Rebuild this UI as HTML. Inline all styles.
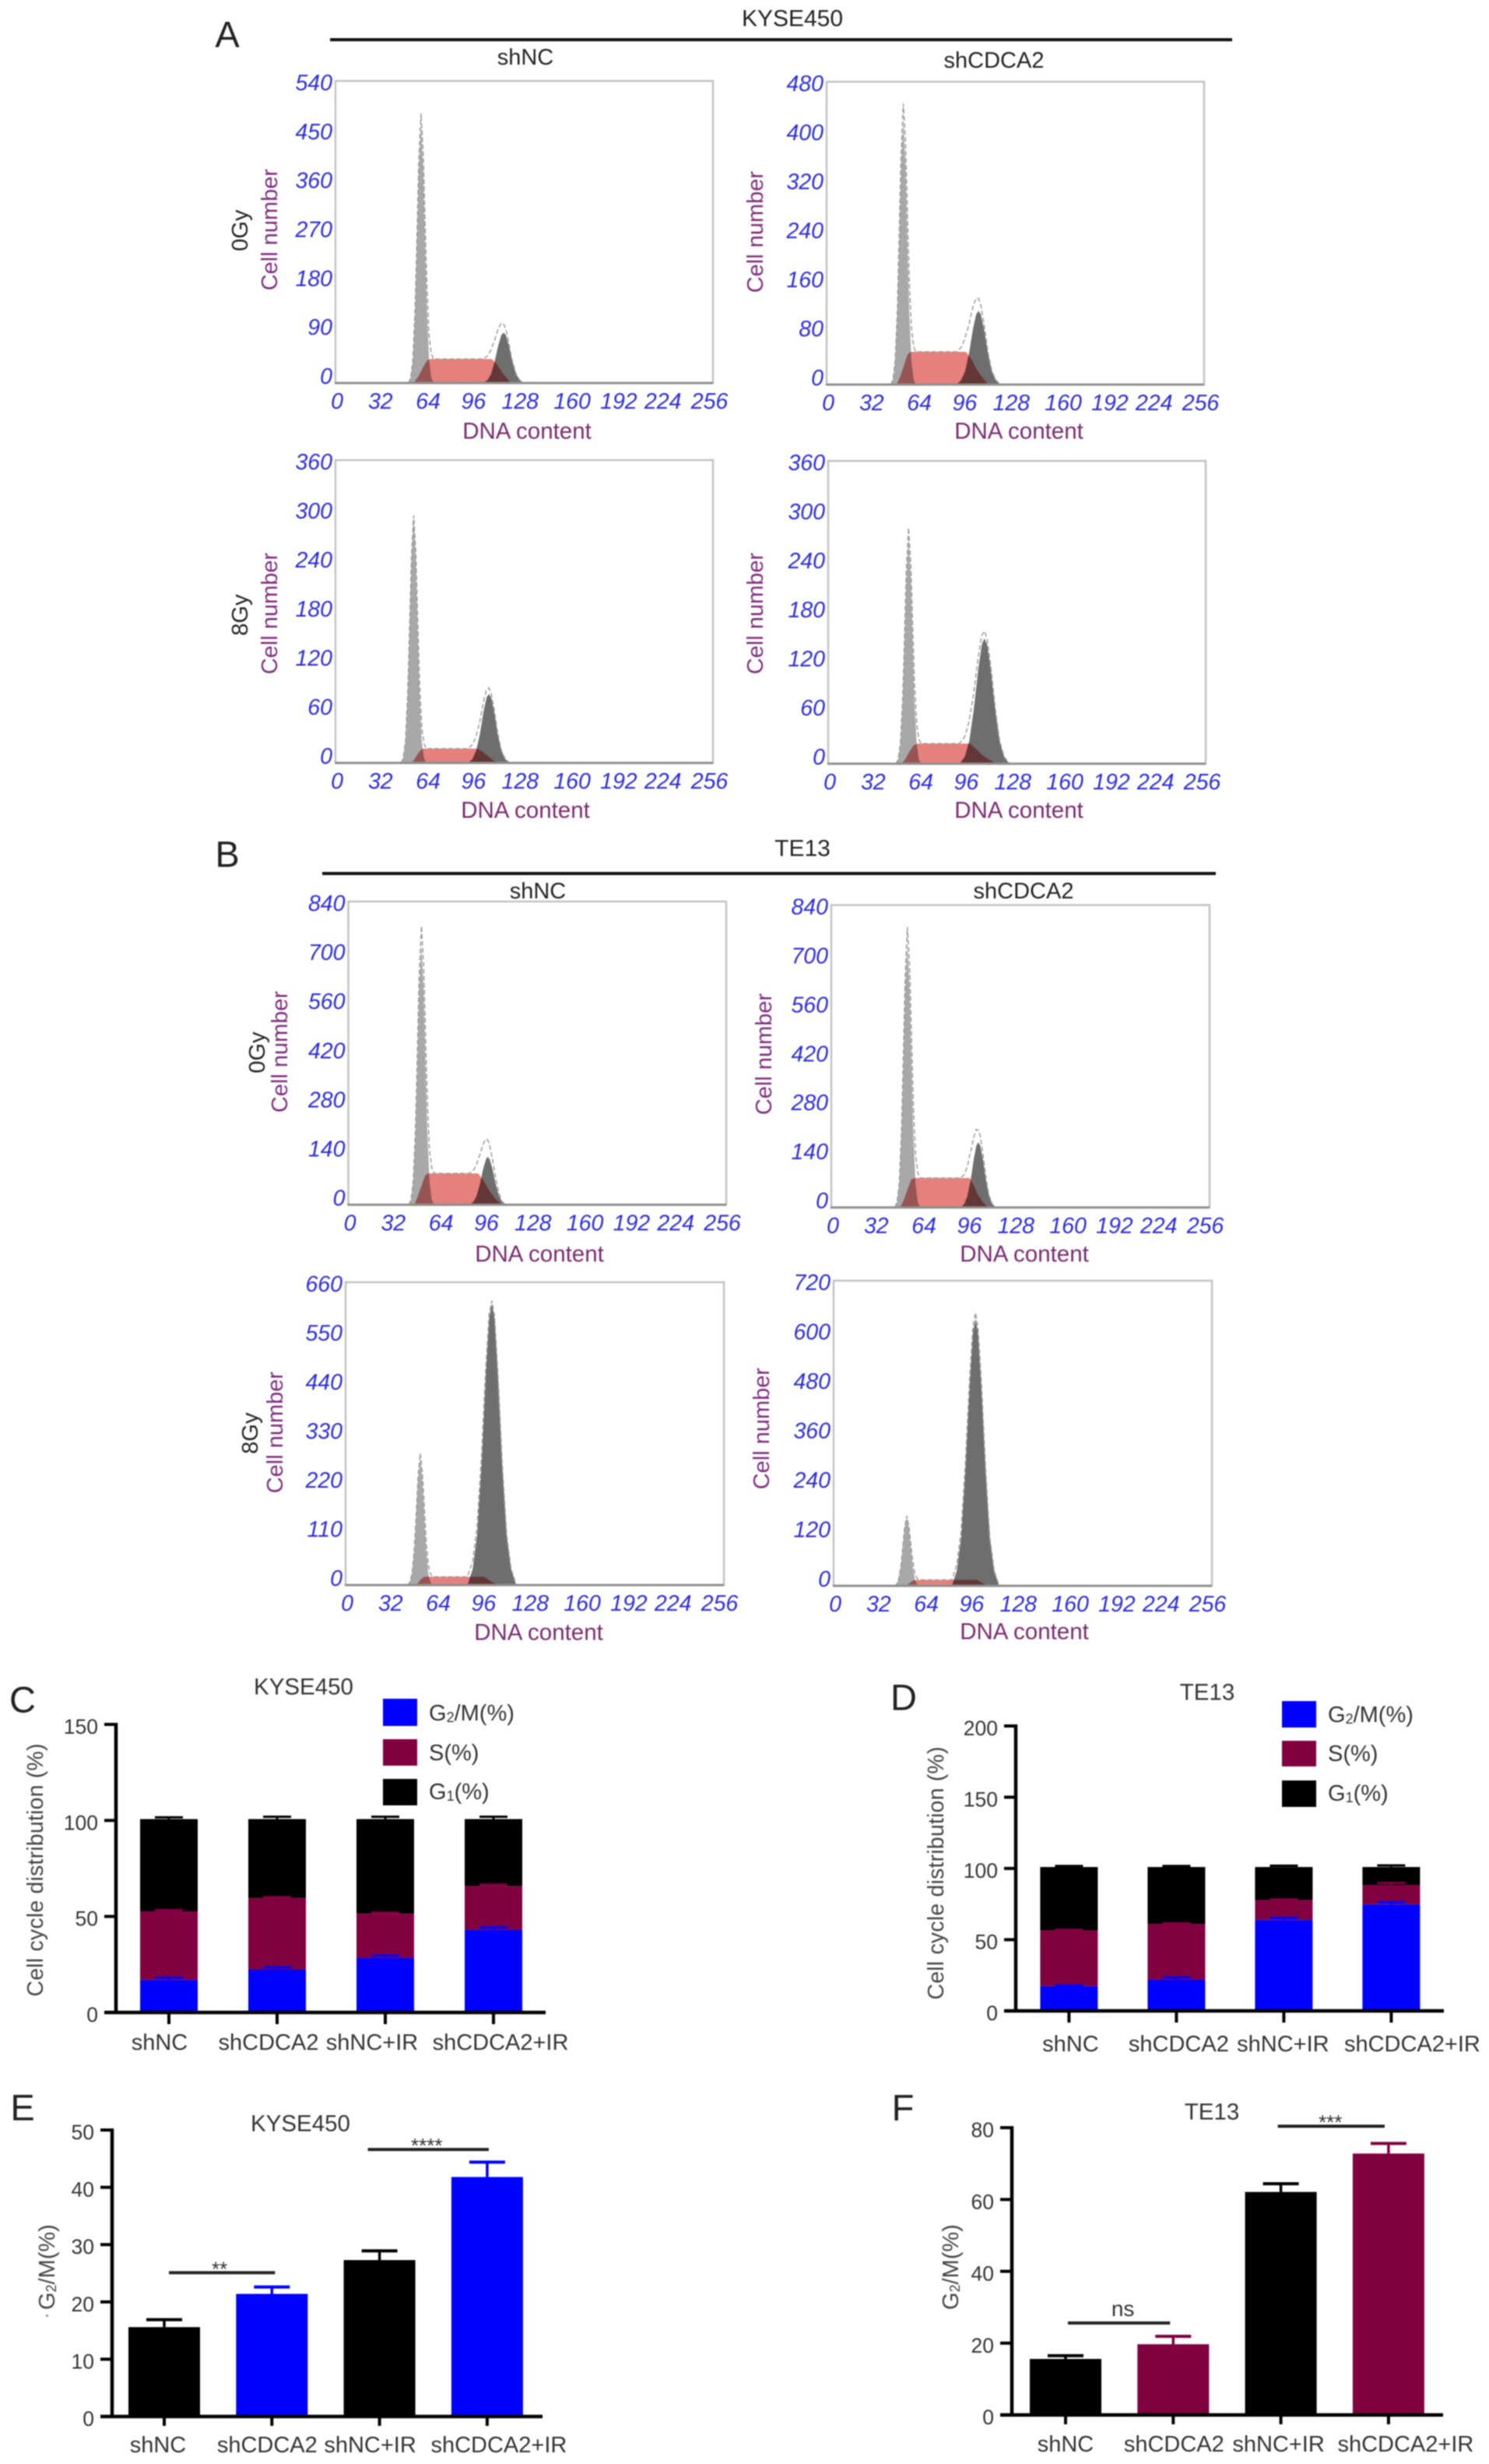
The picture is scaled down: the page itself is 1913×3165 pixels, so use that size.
<!DOCTYPE html>
<html lang="en">
<head>
<meta charset="utf-8">
<title>CDCA2 cell cycle figure</title>
<style>
html,body{margin:0;padding:0;background:#fff;}
svg{display:block;filter:blur(0.7px);font-family:"Liberation Sans",sans-serif;}
</style>
</head>
<body>
<svg id="figure" xmlns="http://www.w3.org/2000/svg" width="1913" height="3165" viewBox="0 0 1913 3165">
  <rect width="1913" height="3165" fill="#fff"/>
  <g fill="#222" font-size="29" text-anchor="middle" dominant-baseline="central">
    <text x="292" y="44" font-size="47">A</text>
    <text x="1018" y="24" font-size="30">KYSE450</text>
    <line x1="424" x2="1583" y1="51" y2="51" stroke="#111" stroke-width="4"/>
    <text x="675" y="74">shNC</text>
    <text x="1277" y="78">shCDCA2</text>
    <text transform="translate(309 296) rotate(-90)">0Gy</text>
    <text transform="translate(309 790) rotate(-90)">8Gy</text>
  </g>
  <g fill="#222" font-size="29" text-anchor="middle" dominant-baseline="central">
    <text x="292" y="1097" font-size="47">B</text>
    <text x="1031" y="1090" font-size="30">TE13</text>
    <line x1="414" x2="1562" y1="1122" y2="1122" stroke="#111" stroke-width="4"/>
    <text x="691" y="1145">shNC</text>
    <text x="1315" y="1145">shCDCA2</text>
    <text transform="translate(331 1352) rotate(-90)">0Gy</text>
    <text transform="translate(322 1841) rotate(-90)">8Gy</text>
  </g>
  <g id="histograms"></g>
  <g fill="#333" font-size="29" dominant-baseline="central">
    <text x="29" y="2183" font-size="47" fill="#222" text-anchor="middle">C</text>
    <text x="390" y="2167" text-anchor="middle" font-size="29.5">KYSE450</text>
    <text transform="translate(46 2402) rotate(-90)" text-anchor="middle" letter-spacing="0.2" font-size="28.5" fill="#444">Cell cycle distribution (%)</text>
    <rect x="492" y="2182" width="44" height="35" fill="#00f"/>
    <rect x="492" y="2234" width="44" height="34" fill="#800040"/>
    <rect x="492" y="2285" width="44" height="34" fill="#000"/>
    <text x="551" y="2201">G<tspan font-size="18" dy="5">2</tspan><tspan dy="-5">/M(%)</tspan></text>
    <text x="551" y="2252">S(%)</text>
    <text x="551" y="2302">G<tspan font-size="18" dy="5">1</tspan><tspan dy="-5">(%)</tspan></text>
  </g>
  <g fill="#333" font-size="29" dominant-baseline="central">
    <text x="1161" y="2180" font-size="47" fill="#222" text-anchor="middle">D</text>
    <text x="1551" y="2174" text-anchor="middle" font-size="29.5">TE13</text>
    <text transform="translate(1203 2406) rotate(-90)" text-anchor="middle" letter-spacing="0.2" font-size="28.5" fill="#444">Cell cycle distribution (%)</text>
    <rect x="1647" y="2185" width="44" height="34" fill="#00f"/>
    <rect x="1647" y="2236" width="44" height="33" fill="#800040"/>
    <rect x="1647" y="2287" width="44" height="34" fill="#000"/>
    <text x="1706" y="2203">G<tspan font-size="18" dy="5">2</tspan><tspan dy="-5">/M(%)</tspan></text>
    <text x="1706" y="2253">S(%)</text>
    <text x="1706" y="2304">G<tspan font-size="18" dy="5">1</tspan><tspan dy="-5">(%)</tspan></text>
  </g>
  <g fill="#333" font-size="29" dominant-baseline="central">
    <text x="29" y="2707" font-size="47" fill="#222" text-anchor="middle">E</text>
    <text x="386" y="2728" text-anchor="middle" font-size="29.5">KYSE450</text>
    <text transform="translate(61 2912) rotate(-90)" text-anchor="middle" fill="#444">G<tspan font-size="18" dy="5">2</tspan><tspan dy="-5">/M(%)</tspan></text>
    <rect x="59" y="2973" width="3" height="3" fill="#999"/>
  </g>
  <g fill="#333" font-size="29" dominant-baseline="central">
    <text x="1160" y="2707" font-size="47" fill="#222" text-anchor="middle">F</text>
    <text x="1557" y="2713" text-anchor="middle" font-size="29.5">TE13</text>
    <text transform="translate(1222 2912) rotate(-90)" text-anchor="middle" fill="#444">G<tspan font-size="18" dy="5">2</tspan><tspan dy="-5">/M(%)</tspan></text>
  </g>
  <g id="bar-charts"></g>
</svg>
<script>
/* ---------- histogram data (DNA channel, cell count) ---------- */
const dnaTicks = [0, 32, 64, 96, 128, 160, 192, 224, 256];

const a1YTicks = [0, 90, 180, 270, 360, 450, 540];
const a1G1Channels = [49.5, 51, 52.5, 54, 55, 56.5, 58, 59.5, 61, 62, 63.5, 65, 66.5];
const a1G1Counts = [0, 9, 41, 129, 226, 383, 461, 383, 226, 129, 41, 9, 0];
const a1SChannels = [53, 56, 59, 62, 64, 84, 106, 110, 113, 116, 119];
const a1SCounts = [0, 11, 26, 40, 43, 43, 43, 32, 19, 9, 0];
const a1G2Channels = [100, 103, 105.5, 108, 110.5, 112.5, 114, 115.5, 117.5, 120, 122.5, 125, 128];
const a1G2Counts = [0, 5, 16, 39, 68, 86, 90, 86, 68, 39, 16, 5, 0];

const a2YTicks = [0, 80, 160, 240, 320, 400, 480];
const a2G1Channels = [43.5, 45, 46.5, 48, 49, 50.5, 52, 53.5, 55, 56, 57.5, 59, 60.5];
const a2G1Counts = [0, 8, 38, 117, 205, 347, 418, 347, 205, 117, 38, 8, 0];
const a2SChannels = [47.5, 50, 52.5, 55, 57, 75, 94.5, 98.5, 102, 106, 110];
const a2SCounts = [0, 13, 31, 48, 52, 52, 52, 39, 23, 10, 0];
const a2G2Channels = [88, 91.2, 93.9, 96.6, 99.25, 101.4, 103, 104.6, 106.75, 109.4, 112.1, 114.8, 118];
const a2G2Counts = [0, 7, 21, 50, 88, 111, 117, 111, 88, 50, 21, 7, 0];

const a3YTicks = [0, 60, 120, 180, 240, 300, 360];
const a3G1Channels = [44.5, 46, 47.5, 49, 50, 51.5, 53, 54.5, 56, 57, 58.5, 60, 61.5];
const a3G1Counts = [0, 6, 26, 81, 143, 242, 291, 242, 143, 81, 26, 6, 0];
const a3SChannels = [51, 53.5, 55.5, 58, 59.5, 78, 96, 100, 103.5, 107, 111];
const a3SCounts = [0, 4, 10, 16, 17, 17, 17, 13, 8, 3, 0];
const a3G2Channels = [90, 93, 95.5, 98, 100.5, 102.5, 104, 105.5, 107.5, 110, 112.5, 115, 118];
const a3G2Counts = [0, 5, 15, 35, 62, 78, 82, 78, 62, 35, 15, 5, 0];

const a4YTicks = [0, 60, 120, 180, 240, 300, 360];
const a4G1Channels = [46, 47.5, 49, 50.5, 51.5, 53, 54.5, 56, 57.5, 58.5, 60, 61.5, 63];
const a4G1Counts = [0, 5, 24, 75, 131, 222, 268, 222, 131, 75, 24, 5, 0];
const a4SChannels = [50, 52.5, 55, 58, 60.5, 78, 96, 100, 104, 109, 115];
const a4SCounts = [0, 6, 14, 22, 24, 24, 24, 18, 11, 5, 0];
const a4G2Channels = [89, 92.6, 95.7, 98.7, 101.75, 104.2, 106, 107.8, 110.25, 113.3, 116.3, 119.4, 123];
const a4G2Counts = [0, 8, 27, 64, 112, 142, 149, 142, 112, 64, 27, 8, 0];

const b1YTicks = [0, 140, 280, 420, 560, 700, 840];
const b1G1Channels = [41, 42.5, 44, 45.5, 46.5, 48, 49.5, 51, 52.5, 53.5, 55, 56.5, 58];
const b1G1Counts = [0, 14, 65, 202, 353, 598, 720, 598, 353, 202, 65, 14, 0];
const b1SChannels = [44.7, 47, 49.5, 52, 54, 71, 88, 92, 95.5, 99.5, 104];
const b1SCounts = [0, 22, 52, 81, 87, 87, 87, 65, 39, 17, 0];
const b1G2Channels = [82, 84.7, 86.9, 89.1, 91.4, 93.2, 94.5, 95.8, 97.6, 99.9, 102.1, 104.3, 107];
const b1G2Counts = [0, 8, 24, 57, 100, 126, 133, 126, 100, 57, 24, 8, 0];

const b2YTicks = [0, 140, 280, 420, 560, 700, 840];
const b2G1Channels = [43, 44.5, 46, 47.5, 48.5, 50, 51.5, 53, 54.5, 55.5, 57, 58.5, 60];
const b2G1Counts = [0, 15, 66, 204, 358, 606, 730, 606, 358, 204, 66, 15, 0];
const b2SChannels = [46.5, 49, 51.5, 54, 56, 75, 93.7, 96.5, 99, 102.5, 106];
const b2SCounts = [0, 20, 49, 76, 82, 82, 82, 61, 37, 16, 0];
const b2G2Channels = [87.5, 90.1, 92.2, 94.4, 96.5, 98.2, 99.5, 100.8, 102.5, 104.6, 106.8, 108.9, 111.5];
const b2G2Counts = [0, 10, 33, 78, 136, 172, 181, 172, 136, 78, 33, 10, 0];

const b3YTicks = [0, 110, 220, 330, 440, 550, 660];
const b3G1Channels = [42, 43.5, 45, 46.5, 47.5, 49, 50.5, 52, 53.5, 54.5, 56, 57.5, 59];
const b3G1Counts = [0, 6, 25, 77, 135, 229, 276, 229, 135, 77, 25, 6, 0];
const b3SChannels = [47, 49, 50.5, 52.5, 53.6, 73, 93.6, 96, 98, 101, 104];
const b3SCounts = [0, 4, 11, 17, 18, 18, 18, 13, 8, 4, 0];
const b3G2Channels = [82.5, 86, 89, 92, 94.9, 97.2, 99, 100.8, 103.1, 106, 109, 112, 115.5];
const b3G2Counts = [0, 35, 110, 264, 460, 582, 613, 582, 460, 264, 110, 35, 0];

const b4YTicks = [0, 120, 240, 360, 480, 600, 720];
const b4G1Channels = [41, 42.5, 44, 45.5, 46.5, 48, 49.5, 51, 52.5, 53.5, 55, 56.5, 58];
const b4G1Counts = [0, 3, 15, 46, 80, 135, 163, 135, 80, 46, 15, 3, 0];
const b4SChannels = [48, 50, 52, 54, 56, 77, 97, 99, 101, 103, 105];
const b4SCounts = [0, 3, 8, 13, 14, 14, 14, 10, 6, 3, 0];
const b4G2Channels = [80, 83.4, 86.3, 89.1, 92, 94.3, 96, 97.7, 100, 102.9, 105.7, 108.6, 112];
const b4G2Counts = [0, 36, 113, 271, 472, 598, 630, 598, 472, 271, 113, 36, 0];

/* ---------- bar chart data ---------- */
const barCategories = ['shNC', 'shCDCA2', 'shNC+IR', 'shCDCA2+IR'];

const cYTicks = [0, 50, 100, 150];
const cG2M = [16.9, 22.3, 28.4, 43];
const cS = [35.8, 37.2, 23, 22.8];
const cG1 = [48, 41.2, 49.3, 34.9];
const cG2MErr = [1.2, 1.2, 1.2, 1.3];
const cSErr = [0.6, 0.6, 0.6, 0.8];
const cG1Err = [0.9, 1.2, 1.2, 1.2];

const dYTicks = [0, 50, 100, 150, 200];
const dG2M = [17.3, 21.9, 63.8, 74.7];
const dS = [39.2, 39.1, 14, 13.6];
const dG1 = [44.5, 40, 23.2, 12.7];
const dG2MErr = [0.5, 1.6, 1.5, 1.6];
const dSErr = [0.5, 0.5, 0.5, 1.5];
const dG1Err = [0.7, 0.7, 0.9, 1.1];

const eYTicks = [0, 10, 20, 30, 40, 50];
const eMeans = [15.6, 21.4, 27.3, 41.8];
const eErrors = [1.3, 1.2, 1.6, 2.6];
const eSigLevels = [25.1, 46.6];
const eSigLabels = ['**', '****'];

const fYTicks = [0, 20, 40, 60, 80];
const fMeans = [15.6, 19.7, 62.1, 72.8];
const fErrors = [0.9, 2.2, 2.3, 2.8];
const fSigLevels = [25.6, 80.4];
const fSigLabels = ['ns', '***'];

/* ---------- layout ---------- */
const SVG_NS = 'http://www.w3.org/2000/svg';
function add(parent, tag, attrs, name, text) {
  const el = document.createElementNS(SVG_NS, tag);
  for (const k in attrs) el.setAttribute(k, attrs[k]);
  
  
  if (text !== undefined) el.textContent = text;
  parent.appendChild(el);
  return el;
}

const histRoot = document.getElementById('histograms');
const barRoot = document.getElementById('bar-charts');
const dnaLabelNudgePx = [0, -4, -2.5, -4, -4, 3, 3, 0, 0];

function interp(xs, ys, x) {
  if (x <= xs[0] || x >= xs[xs.length - 1]) return 0;
  for (let i = 1; i < xs.length; i++) {
    if (x <= xs[i]) return ys[i - 1] + (ys[i] - ys[i - 1]) * (x - xs[i - 1]) / (xs[i] - xs[i - 1]);
  }
  return 0;
}

function drawHistogram(cfg) {
  const g = add(histRoot, 'g', {}, 'histogram-' + cfg.id);
  const ticks = cfg.yTicks;
  const yMax = ticks[ticks.length - 1];
  const xAt = c => cfg.L + c / 256 * (cfg.R - cfg.L);
  const yAt = v => cfg.B - v / yMax * (cfg.B - cfg.T);
  const area = (xs, ys) => 'M' + xAt(xs[0]).toFixed(1) + ' ' + cfg.B + xs.map((c, i) => 'L' + xAt(c).toFixed(1) + ' ' + yAt(ys[i]).toFixed(1)).join('') + 'L' + xAt(xs[xs.length - 1]).toFixed(1) + ' ' + cfg.B + 'Z';

  add(g, 'rect', {x: cfg.L, y: cfg.T, width: cfg.R - cfg.L, height: cfg.B - cfg.T, fill: '#fff', stroke: '#c2c2c2', 'stroke-width': 2.5}, 'plot-frame');
  add(g, 'path', {d: area(cfg.g1x, cfg.g1y), fill: '#a8a8a8'}, 'g1-peak');
  add(g, 'path', {d: area(cfg.g2x, cfg.g2y), fill: '#6e6e6e'}, 'g2m-peak');
  add(g, 'path', {d: area(cfg.sx, cfg.sy), fill: '#e6807c', style: 'mix-blend-mode:multiply'}, 's-phase-area');

  const channels = Array.from(new Set(cfg.g1x.concat(cfg.sx, cfg.g2x))).sort((a, b) => a - b);
  const totals = channels.map(c => interp(cfg.g1x, cfg.g1y, c) + interp(cfg.sx, cfg.sy, c) + interp(cfg.g2x, cfg.g2y, c));
  add(g, 'path', {d: 'M' + channels.map((c, i) => xAt(c).toFixed(1) + ' ' + yAt(totals[i]).toFixed(1)).join('L'), fill: 'none', stroke: '#9a9a9a', 'stroke-width': 1.5, 'stroke-dasharray': '6 3'}, 'fit-total-curve');

  add(g, 'line', {x1: cfg.L - 1, x2: cfg.R, y1: cfg.B, y2: cfg.B, stroke: '#8f8f8f', 'stroke-width': 3}, 'x-axis');

  ticks.forEach(t => {
    const y = (cfg.B - 8) - t / yMax * ((cfg.B - 8) - (cfg.T + 3));
    add(g, 'text', {x: cfg.L - 4, y: y, 'font-size': 28.5, 'font-style': 'italic', fill: '#2c2ce0', 'text-anchor': 'end', 'dominant-baseline': 'central'}, 'y-tick-label', t);
  });
  dnaTicks.forEach((t, i) => {
    const x = cfg.L + 2 + t / 256 * 478.5 + dnaLabelNudgePx[i];
    add(g, 'text', {x: x, y: cfg.B + 24, 'font-size': 28.5, 'font-style': 'italic', fill: '#2c2ce0', 'text-anchor': 'middle', 'dominant-baseline': 'central'}, 'x-tick-label', t);
  });
  add(g, 'text', {transform: 'translate(' + cfg.cnX + ' ' + cfg.cnY + ') rotate(-90)', 'font-size': 29, fill: '#7f2b7f', 'text-anchor': 'middle', 'dominant-baseline': 'central'}, 'y-axis-title', 'Cell number');
  add(g, 'text', {x: cfg.dnaX, y: cfg.dnaY, 'font-size': 29.5, fill: '#7a2a6e', 'text-anchor': 'middle', 'dominant-baseline': 'central'}, 'x-axis-title', 'DNA content');
}

drawHistogram({id: 'a1', L: 431, R: 916, T: 104, B: 492, cnX: 347, cnY: 295, dnaX: 677, dnaY: 554, yTicks: a1YTicks, g1x: a1G1Channels, g1y: a1G1Counts, sx: a1SChannels, sy: a1SCounts, g2x: a1G2Channels, g2y: a1G2Counts});
drawHistogram({id: 'a2', L: 1062, R: 1547, T: 105, B: 494, cnX: 971, cnY: 298, dnaX: 1309, dnaY: 554, yTicks: a2YTicks, g1x: a2G1Channels, g1y: a2G1Counts, sx: a2SChannels, sy: a2SCounts, g2x: a2G2Channels, g2y: a2G2Counts});
drawHistogram({id: 'a3', L: 431, R: 916, T: 591, B: 980, cnX: 347, cnY: 788, dnaX: 675, dnaY: 1041, yTicks: a3YTicks, g1x: a3G1Channels, g1y: a3G1Counts, sx: a3SChannels, sy: a3SCounts, g2x: a3G2Channels, g2y: a3G2Counts});
drawHistogram({id: 'a4', L: 1064, R: 1549, T: 592, B: 981, cnX: 971, cnY: 788, dnaX: 1309, dnaY: 1041, yTicks: a4YTicks, g1x: a4G1Channels, g1y: a4G1Counts, sx: a4SChannels, sy: a4SCounts, g2x: a4G2Channels, g2y: a4G2Counts});
drawHistogram({id: 'b1', L: 447.5, R: 933, T: 1158, B: 1547.5, cnX: 360, cnY: 1351, dnaX: 693, dnaY: 1611, yTicks: b1YTicks, g1x: b1G1Channels, g1y: b1G1Counts, sx: b1SChannels, sy: b1SCounts, g2x: b1G2Channels, g2y: b1G2Counts});
drawHistogram({id: 'b2', L: 1068, R: 1554, T: 1162.5, B: 1551, cnX: 982, cnY: 1354, dnaX: 1316, dnaY: 1611, yTicks: b2YTicks, g1x: b2G1Channels, g1y: b2G1Counts, sx: b2SChannels, sy: b2SCounts, g2x: b2G2Channels, g2y: b2G2Counts});
drawHistogram({id: 'b3', L: 444, R: 930, T: 1647, B: 2036, cnX: 354, cnY: 1840, dnaX: 692, dnaY: 2097, yTicks: b3YTicks, g1x: b3G1Channels, g1y: b3G1Counts, sx: b3SChannels, sy: b3SCounts, g2x: b3G2Channels, g2y: b3G2Counts});
drawHistogram({id: 'b4', L: 1071, R: 1557, T: 1645, B: 2037, cnX: 979, cnY: 1835, dnaX: 1316, dnaY: 2096, yTicks: b4YTicks, g1x: b4G1Channels, g1y: b4G1Counts, sx: b4SChannels, sy: b4SCounts, g2x: b4G2Channels, g2y: b4G2Counts});

function drawAxes(g, cfg) {
  const yMax = cfg.yTicks[cfg.yTicks.length - 1];
  const yAt = v => cfg.y0 - v / yMax * (cfg.y0 - cfg.yTop);
  const xAt = i => cfg.x0 + i * cfg.step;
  cfg.yTicks.forEach(t => {
    add(g, 'line', {x1: cfg.axisX - 15, x2: cfg.axisX, y1: yAt(t), y2: yAt(t), stroke: '#000', 'stroke-width': 4}, 'y-tick');
    add(g, 'text', {x: cfg.axisX - 23, y: yAt(t) + 3, 'font-size': 26.5, fill: '#333', 'text-anchor': 'end', 'dominant-baseline': 'central'}, 'y-tick-label', t);
  });
  add(g, 'line', {x1: cfg.axisX, x2: cfg.axisX, y1: cfg.yTop - 2, y2: cfg.y0 + 2, stroke: '#000', 'stroke-width': 4.5}, 'y-axis');
  barCategories.forEach((c, i) => {
    add(g, 'line', {x1: xAt(i), x2: xAt(i), y1: cfg.y0, y2: cfg.tickBottom, stroke: '#000', 'stroke-width': 4}, 'x-tick');
    add(g, 'text', {x: xAt(i) + cfg.labelNudge[i], y: cfg.labelY, 'font-size': 29, fill: '#333', 'text-anchor': 'middle', 'dominant-baseline': 'central'}, 'x-tick-label', c);
  });
  return {xAt: xAt, yAt: yAt};
}

function drawStacked(cfg) {
  const g = add(barRoot, 'g', {}, 'stacked-bar-chart-' + cfg.id);
  const ax = drawAxes(g, cfg);
  barCategories.forEach((c, i) => {
    const x = ax.xAt(i);
    const topG2 = cfg.g2[i];
    const topS = topG2 + cfg.s[i];
    const topG1 = topS + cfg.g1[i];
    const segs = [
      {low: topS, high: topG1, err: cfg.g1Err[i], fill: '#000', name: 'bar-segment-g1'},
      {low: topG2, high: topS, err: cfg.sErr[i], fill: '#800040', name: 'bar-segment-s'},
      {low: 0, high: topG2, err: cfg.g2Err[i], fill: '#00f', name: 'bar-segment-g2m'}
    ];
    segs.forEach(s => {
      add(g, 'rect', {x: x - cfg.barW / 2, y: ax.yAt(s.high), width: cfg.barW, height: ax.yAt(s.low) - ax.yAt(s.high), fill: s.fill}, s.name);
      add(g, 'line', {x1: x - 18, x2: x + 18, y1: ax.yAt(s.high + s.err), y2: ax.yAt(s.high + s.err), stroke: s.fill, 'stroke-width': 3}, 'error-cap');
      add(g, 'line', {x1: x, x2: x, y1: ax.yAt(s.high + s.err), y2: ax.yAt(s.high), stroke: s.fill, 'stroke-width': 3}, 'error-stem');
    });
  });
  add(g, 'line', {x1: cfg.axisX - 15, x2: cfg.xEnd, y1: cfg.y0, y2: cfg.y0, stroke: '#000', 'stroke-width': 4.5}, 'x-axis');
}

function drawSimple(cfg) {
  const g = add(barRoot, 'g', {}, 'bar-chart-' + cfg.id);
  const ax = drawAxes(g, cfg);
  cfg.means.forEach((m, i) => {
    const x = ax.xAt(i);
    const fill = cfg.colors[i];
    add(g, 'line', {x1: x, x2: x, y1: ax.yAt(m), y2: ax.yAt(m + cfg.errors[i]), stroke: fill, 'stroke-width': 3.5}, 'error-stem');
    add(g, 'line', {x1: x - 23, x2: x + 23, y1: ax.yAt(m + cfg.errors[i]), y2: ax.yAt(m + cfg.errors[i]), stroke: fill, 'stroke-width': 4}, 'error-cap');
    add(g, 'rect', {x: x - cfg.barW / 2, y: ax.yAt(m), width: cfg.barW, height: cfg.y0 - ax.yAt(m), fill: fill}, 'bar-' + barCategories[i].toLowerCase().replace('+', '-'));
  });
  add(g, 'line', {x1: cfg.axisX - 15, x2: cfg.xEnd, y1: cfg.y0, y2: cfg.y0, stroke: '#000', 'stroke-width': 4.5}, 'x-axis');
  cfg.sigLevels.forEach((lv, k) => {
    const sp = cfg.sigSpans[k];
    const x1 = ax.xAt(sp[0]) + sp[1];
    const x2 = ax.xAt(sp[2]) + sp[3];
    const y = ax.yAt(lv);
    add(g, 'line', {x1: x1, x2: x2, y1: y, y2: y, stroke: '#222', 'stroke-width': 4}, 'significance-bar');
    const label = cfg.sigLabels[k];
    const isNs = label === 'ns';
    add(g, 'text', {x: (x1 + x2) / 2 + cfg.sigNudge[k], y: isNs ? y - 9 : y + 4, 'font-size': isNs ? 28 : 26, fill: '#333', 'text-anchor': 'middle'}, 'significance-label', label);
  });
}

drawStacked({id: 'c', axisX: 149, y0: 2585, yTop: 2215, x0: 217, step: 139, barW: 74, xEnd: 701, tickBottom: 2600, labelY: 2624, labelNudge: [-12, -11, -17, 9], yTicks: cYTicks, g2: cG2M, s: cS, g1: cG1, g2Err: cG2MErr, sErr: cSErr, g1Err: cG1Err});
drawStacked({id: 'd', axisX: 1305, y0: 2583, yTop: 2217, x0: 1373.4, step: 138, barW: 74, xEnd: 1855, tickBottom: 2598, labelY: 2626, labelNudge: [2, 3, -1, 27], yTicks: dYTicks, g2: dG2M, s: dS, g1: dG1, g2Err: dG2MErr, sErr: dSErr, g1Err: dG1Err});
drawSimple({id: 'e', axisX: 144, y0: 3104, yTop: 2736, x0: 211, step: 138.3, barW: 92, xEnd: 697, tickBottom: 3116, labelY: 3141, labelNudge: [-8, -6, -12, 15], yTicks: eYTicks, means: eMeans, errors: eErrors, colors: ['#000', '#00f', '#000', '#00f'], sigLevels: eSigLevels, sigLabels: eSigLabels, sigSpans: [[0, 6, 1, 4], [2, -15, 3, 2]], sigNudge: [-3, -2]});
drawSimple({id: 'f', axisX: 1300, y0: 3102, yTop: 2733, x0: 1369, step: 138.3, barW: 92, xEnd: 1854, tickBottom: 3114, labelY: 3140, labelNudge: [0, 1, -3, 22], yTicks: fYTicks, means: fMeans, errors: fErrors, colors: ['#000', '#800040', '#000', '#800040'], sigLevels: fSigLevels, sigLabels: fSigLabels, sigSpans: [[0, 3, 1, -4], [2, -4, 3, -5]], sigNudge: [5, -1]});
</script>
</body>
</html>
